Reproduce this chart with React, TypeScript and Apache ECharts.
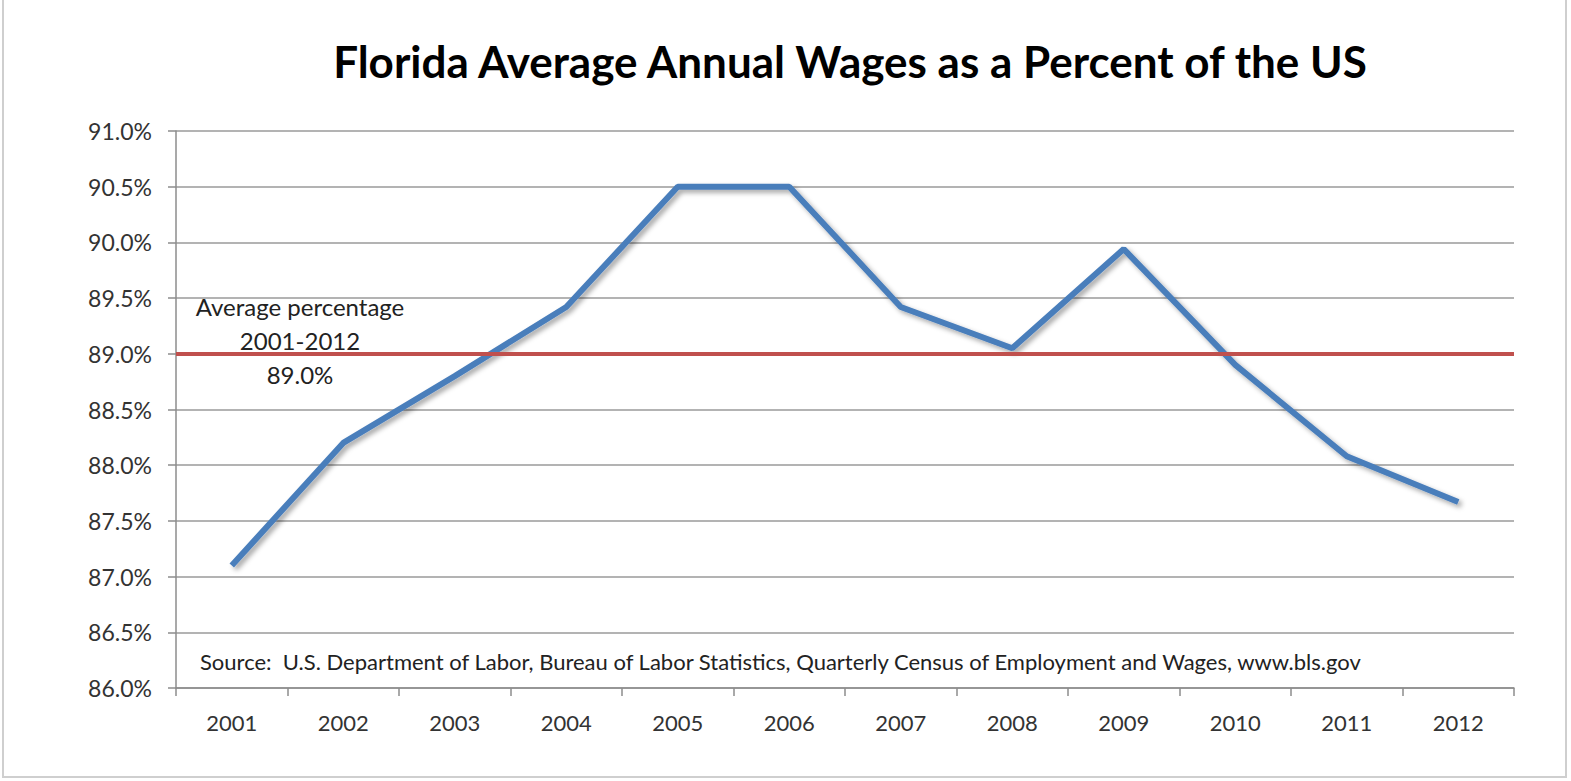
import React, { useEffect, useRef } from "react";
import * as echarts from "echarts";

const TITLE = "Florida Average Annual Wages as a Percent of the US";
const YEARS = ["2001", "2002", "2003", "2004", "2005", "2006", "2007", "2008", "2009", "2010", "2011", "2012"];
const WAGE_PCT = [87.1, 88.2, 88.8, 89.42, 90.5, 90.5, 89.42, 89.05, 89.94, 88.9, 88.08, 87.67];
const AVERAGE_PCT = 89.0;
const AVERAGE_LABEL = ["Average percentage", "2001-2012", "89.0%"];
const SOURCE_TEXT =
  "Source:  U.S. Department of Labor, Bureau of Labor Statistics, Quarterly Census of Employment and Wages, www.bls.gov";
const Y_MIN = 86;
const Y_MAX = 91;
const Y_STEP = 0.5;

const FONT = "Lato, 'Open Sans', sans-serif";

export default function App() {
  const ref = useRef<HTMLDivElement>(null);

  useEffect(() => {
    if (!ref.current) return;
    const chart = echarts.init(ref.current, null, { renderer: "svg" });
    chart.setOption({
      animation: false,
      backgroundColor: "#ffffff",
      title: {
        text: TITLE,
        left: 845,
        textAlign: "center",
        top: 34,
        textStyle: { fontFamily: FONT, fontWeight: "bold", fontSize: 44, color: "#000000" },
      },
      grid: { left: 176, right: 57, top: 131, bottom: 93, containLabel: false },
      xAxis: {
        type: "category",
        data: YEARS,
        boundaryGap: true,
        axisLine: { lineStyle: { color: "#8c8c8c", width: 1.5 } },
        axisTick: { show: true, length: 8, alignWithLabel: false, lineStyle: { color: "#8c8c8c", width: 1.5 } },
        axisLabel: { margin: 23, fontFamily: FONT, fontSize: 22, color: "#333333" },
        splitLine: { show: false },
      },
      yAxis: {
        type: "value",
        min: Y_MIN,
        max: Y_MAX,
        interval: Y_STEP,
        axisLine: { show: true, lineStyle: { color: "#8c8c8c", width: 1.5 } },
        axisTick: { show: true, length: 8, lineStyle: { color: "#8c8c8c", width: 1.5 } },
        axisLabel: {
          margin: 24,
          fontFamily: FONT,
          fontSize: 23,
          color: "#333333",
          formatter: (v: number) => v.toFixed(1) + "%",
        },
        splitLine: { show: true, lineStyle: { color: "#9a9a9a", width: 1.5 } },
      },
      series: [
        {
          type: "line",
          data: WAGE_PCT,
          symbol: "none",
          z: 3,
          lineStyle: {
            color: "#4a7ebb",
            width: 6,
            shadowColor: "rgba(0,0,0,0.35)",
            shadowBlur: 5,
            shadowOffsetX: 3,
            shadowOffsetY: 3,
          },
          markLine: {
            silent: true,
            symbol: "none",
            label: { show: false },
            lineStyle: {
              color: "#c0504d",
              width: 4,
              type: "solid",
            },
            data: [{ yAxis: AVERAGE_PCT }],
          },
        },
      ],
      graphic: [
        {
          type: "rect",
          shape: { x: 3, y: -2, width: 1563, height: 779 },
          style: { fill: "none", stroke: "#cfcfcf", lineWidth: 2 },
          silent: true,
        },
        {
          type: "text",
          x: 300,
          y: 289,
          style: {
            text: AVERAGE_LABEL.join("\n"),
            fontFamily: FONT,
            fontSize: 24,
            lineHeight: 34,
            fill: "#222222",
            align: "center",
            verticalAlign: "top",
          },
          z: 10,
        },
        {
          type: "text",
          x: 200,
          y: 661,
          style: {
            text: SOURCE_TEXT,
            fontFamily: FONT,
            fontSize: 22,
            fill: "#222222",
            align: "left",
            verticalAlign: "middle",
          },
          z: 10,
        },
      ],
    });
    return () => chart.dispose();
  }, []);

  return <div ref={ref} style={{ position: "absolute", left: 0, top: 0, width: 1571, height: 781 }} />;
}
